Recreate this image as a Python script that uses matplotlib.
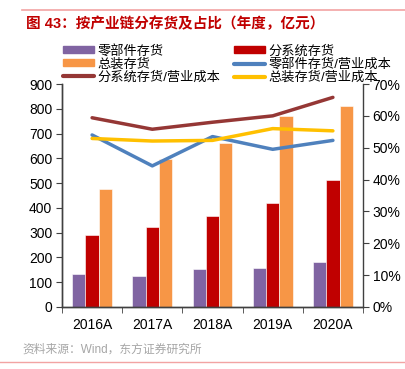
import matplotlib
matplotlib.use("Agg")
from matplotlib import pyplot as plt
from matplotlib.patches import Patch
from matplotlib.lines import Line2D
import numpy as np

plt.rcParams['font.family'] = ['Liberation Sans', 'Noto Sans CJK SC', 'DejaVu Sans']

# data
years = ["2016A", "2017A", "2018A", "2019A", "2020A"]
parts_inv = [133, 125, 153, 156, 180]        # 零部件存货
subsys_inv = [290, 324, 367, 418, 512]       # 分系统存货
assembly_inv = [476, 596, 663, 772, 812]     # 总装存货
parts_ratio = [54.0, 44.3, 53.5, 49.5, 52.3]     # 零部件存货/营业成本 (%)
subsys_ratio = [59.4, 55.8, 58.0, 60.0, 65.8]    # 分系统存货/营业成本 (%)
assembly_ratio = [52.9, 52.1, 52.3, 56.0, 55.3]  # 总装存货/营业成本 (%)

c_purple = "#8064A2"
c_red = "#C00000"
c_orange = "#F79646"
c_blue = "#4F81BD"
c_dred = "#953735"
c_yellow = "#FFC000"
axis_col = "#404040"

fig = plt.figure(figsize=(4.06, 3.69), dpi=100)
ax = fig.add_axes([62 / 406, 1 - 307 / 369, 301 / 406, 223 / 369])
ax2 = ax.twinx()

x = np.arange(len(years))
w = 0.22
ax.bar(x - w, parts_inv, w, color=c_purple, edgecolor="white", linewidth=0.4, zorder=2)
ax.bar(x, subsys_inv, w, color=c_red, edgecolor="white", linewidth=0.4, zorder=2)
ax.bar(x + w, assembly_inv, w, color=c_orange, edgecolor="white", linewidth=0.4, zorder=2)

ax2.plot(x, parts_ratio, color=c_blue, lw=2.5, solid_capstyle="round")
ax2.plot(x, subsys_ratio, color=c_dred, lw=2.5, solid_capstyle="round")
ax2.plot(x, assembly_ratio, color=c_yellow, lw=2.5, solid_capstyle="round")

ax.set_xlim(-0.5, len(years) - 0.5)
ax.set_ylim(0, 900)
ax.set_yticks(np.arange(0, 901, 100))
ax2.set_ylim(0, 70)
ax2.set_yticks(np.arange(0, 71, 10))
ax2.set_yticklabels([f"{v}%" for v in range(0, 71, 10)])

ax.set_xticks(x)
ax.set_xticklabels(years)
ax.set_xticks(np.arange(-0.5, len(years), 1), minor=True)
ax.tick_params(axis="x", which="major", length=0, pad=8, labelsize=10)
ax.tick_params(axis="x", which="minor", length=4, direction="out", color=axis_col)
ax.tick_params(axis="y", length=4, direction="out", color=axis_col, labelsize=10, pad=3)
ax2.tick_params(axis="y", length=4, direction="out", color=axis_col, labelsize=10, pad=3)

for a in (ax, ax2):
    a.spines["top"].set_visible(False)
    for s in ("left", "right", "bottom"):
        a.spines[s].set_color(axis_col)
        a.spines[s].set_linewidth(1.0)
ax.spines["right"].set_visible(False)

# legend
handles = [
    Patch(color=c_purple), Patch(color=c_orange), Line2D([], [], color=c_dred, lw=3, solid_capstyle="round"),
    Patch(color=c_red), Line2D([], [], color=c_blue, lw=3, solid_capstyle="round"),
    Line2D([], [], color=c_yellow, lw=3, solid_capstyle="round"),
]
labels = ["零部件存货", "总装存货", "分系统存货/营业成本",
          "分系统存货", "零部件存货/营业成本", "总装存货/营业成本"]
fig.legend(handles, labels, ncol=2, loc="upper left", bbox_to_anchor=(56 / 406, 1 - 38 / 369),
           frameon=False, fontsize=9.5, handlelength=2.4, handleheight=0.45,
           handletextpad=0.25, columnspacing=1.0, labelspacing=0.05, borderpad=0)

# title, source and rules
fig.text(26 / 406, 1 - 24 / 369, "图 43：按产业链分存货及占比（年度，亿元）", color=c_red,
         fontsize=10.5, fontweight="bold", va="center", ha="left")
fig.add_artist(Line2D([22 / 406, 1], [1 - 10 / 369] * 2, color="#F2A3A3", lw=1.2))
fig.add_artist(Line2D([0, 1], [1 - 362 / 369] * 2, color="#F2A3A3", lw=1.0))
fig.text(22 / 406, 1 - 350 / 369, "资料来源：Wind，东方证券研究所", color="#A6A6A6",
         fontsize=8.5, va="center", ha="left")

fig.savefig("out.png", dpi=100)
